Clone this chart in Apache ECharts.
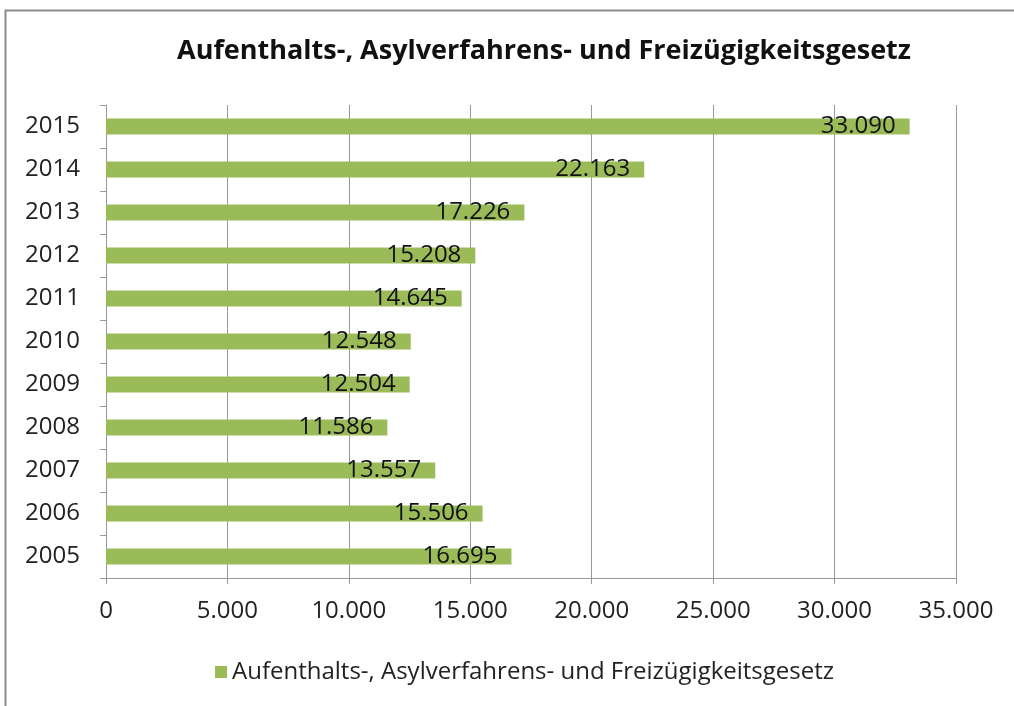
<!DOCTYPE html>
<html style="height: 100%">
<head>
    <meta charset="UTF-8" />
    <title>Aufenthalts-, Asylverfahrens- und Freizügigkeitsgesetz</title>
    <style>
        body { margin: 0; background: #fff; }
    </style>
</head>
<body>
    <div id="main" style="width:1014px;height:706px;"></div>
    <script src="https://cdn.jsdelivr.net/npm/echarts@6/dist/echarts.min.js"></script>
    <script>
        var seriesName = 'Aufenthalts-, Asylverfahrens- und Freizügigkeitsgesetz';
        var years = ['2005','2006','2007','2008','2009','2010','2011','2012','2013','2014','2015'];
        var values = [16695, 15506, 13557, 11586, 12504, 12548, 14645, 15208, 17226, 22163, 33090];

        /* Zahlen mit Punkt als Tausendertrenner */
        function fmt(v){
            return String(v).replace(/\B(?=(\d{3})+(?!\d))/g, '.');
        }

        var font = "'Open Sans', 'DejaVu Sans', sans-serif";
        var app = echarts.init(document.getElementById('main'));
        var option = {
            animation: false,
            backgroundColor: '#fff',
            title: {
                text: seriesName,
                left: 539,
                top: 33,
                textAlign: 'center',
                textStyle: {fontFamily: font, fontSize: 27, fontWeight: 'bold', color: '#111'}
            },
            legend: {
                data: [seriesName],
                left: 210,
                top: 655,
                itemWidth: 12,
                itemHeight: 12,
                itemGap: 4,
                icon: 'rect',
                textStyle: {fontFamily: font, fontSize: 24, color: '#222'}
            },
            grid: {left: 106, right: 58, top: 105, bottom: 128, containLabel: false},
            xAxis: {
                type: 'value',
                min: 0,
                max: 35000,
                interval: 5000,
                axisLine: {show: true, lineStyle: {color: '#999'}},
                axisTick: {show: true, length: 6, lineStyle: {color: '#999'}},
                splitLine: {lineStyle: {color: '#999'}},
                axisLabel: {
                    formatter: fmt,
                    margin: 21,
                    fontFamily: font,
                    fontSize: 24,
                    color: '#222'
                }
            },
            yAxis: {
                type: 'category',
                data: years,
                axisLine: {show: true, lineStyle: {color: '#999'}},
                axisTick: {show: true, length: 6, lineStyle: {color: '#999'}},
                axisLabel: {
                    margin: 26,
                    fontFamily: font,
                    fontSize: 24,
                    color: '#222'
                }
            },
            series: [{
                name: seriesName,
                type: 'bar',
                data: values,
                barWidth: 16,
                itemStyle: {color: '#9bbb59'},
                label: {
                    show: true,
                    position: 'insideRight',
                    distance: 14,
                    formatter: function(p){ return fmt(p.value); },
                    fontFamily: font,
                    fontSize: 24,
                    color: '#111'
                }
            }],
            graphic: [{
                type: 'rect',
                shape: {x: 5.5, y: 10.5, width: 1030, height: 720},
                style: {fill: 'none', stroke: '#8c8c8c', lineWidth: 2},
                silent: true
            }]
        };
        app.setOption(option);
        window.addEventListener('resize', function(){ app.resize(); });
    </script>
</body>
</html>
